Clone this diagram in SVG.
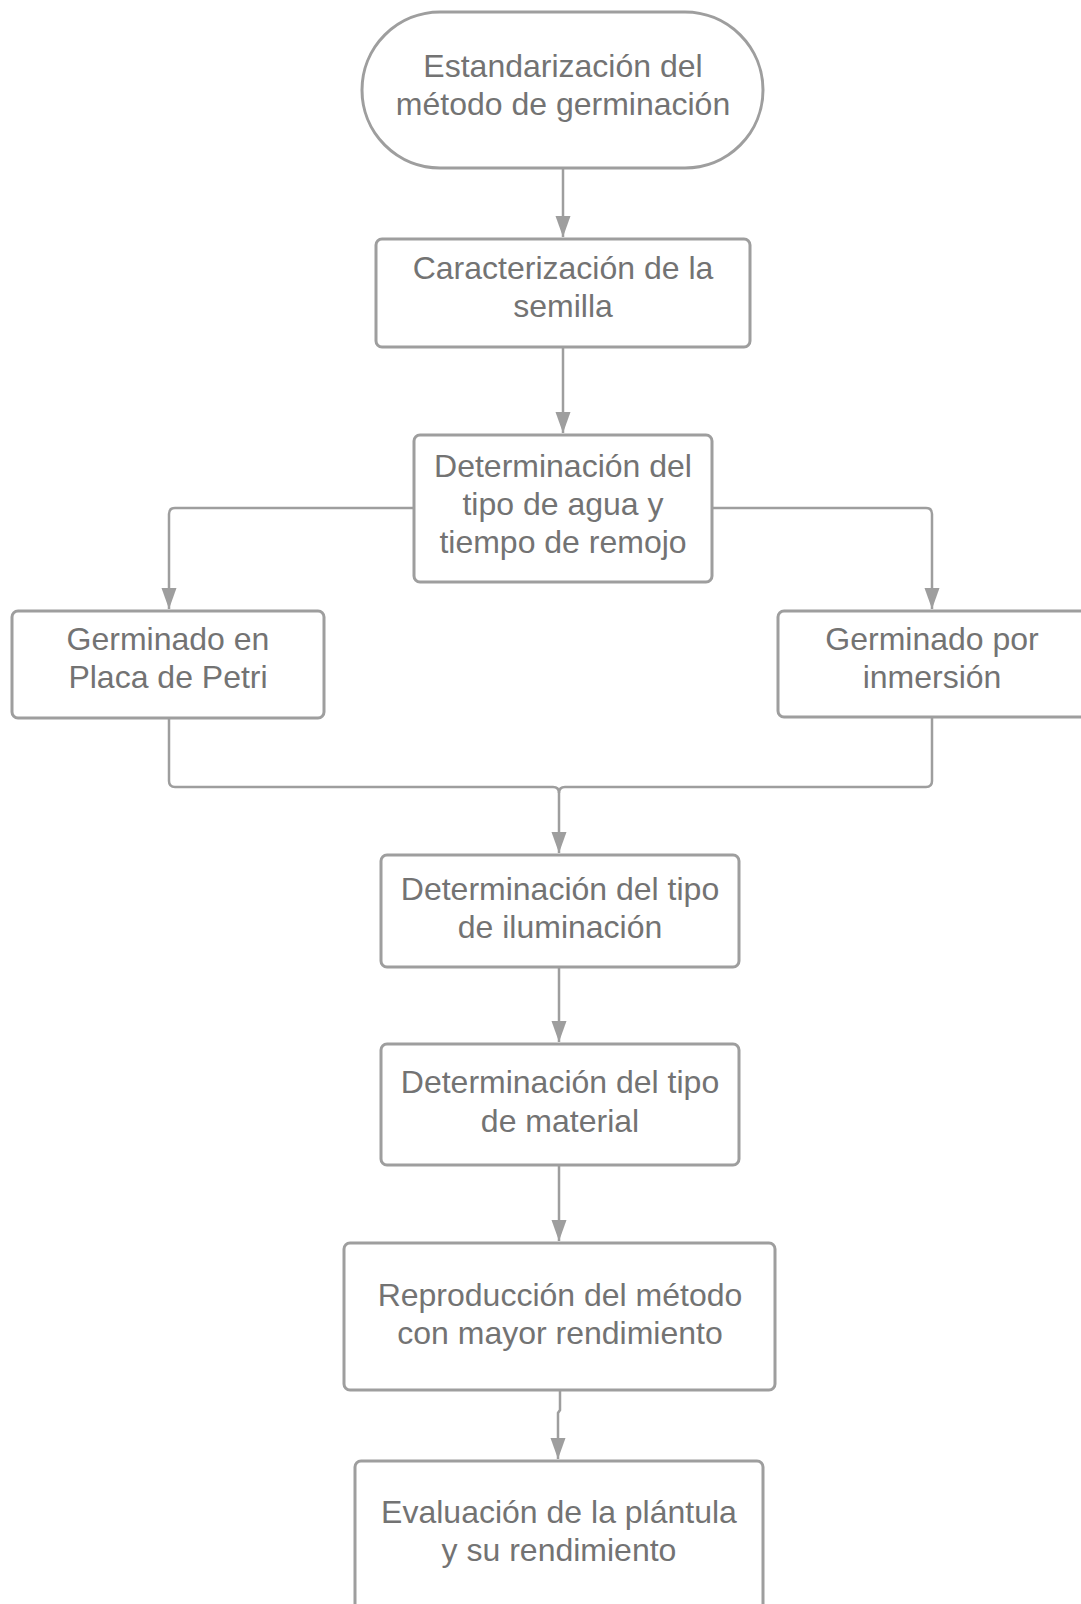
<svg xmlns="http://www.w3.org/2000/svg" width="1081" height="1604" viewBox="0 0 1081 1604">
<style>
.n{fill:#ffffff;stroke:#9e9e9e;stroke-width:3}
.t{font-family:"Liberation Sans",Arial,sans-serif;font-size:32px;fill:#737373;text-anchor:middle}
.c{fill:none;stroke:#9e9e9e;stroke-width:2.5}
</style>
<defs>
<marker id="ah" markerUnits="userSpaceOnUse" markerWidth="22" markerHeight="16" refX="21" refY="7.5" orient="auto" viewBox="0 0 22 16">
<path d="M0,0 L21,7.5 L0,15 z" fill="#9e9e9e"/>
</marker>
</defs>
<rect width="1081" height="1604" fill="#ffffff"/>
<g id="connectors">
<path class="c" d="M563,168 V237" marker-end="url(#ah)"/>
<path class="c" d="M563,347 V433" marker-end="url(#ah)"/>
<path class="c" d="M414,508 H175 Q169,508 169,514 V609" marker-end="url(#ah)"/>
<path class="c" d="M712,508 H926 Q932,508 932,514 V609" marker-end="url(#ah)"/>
<path class="c" d="M169,718 V781 Q169,787 175,787 H553 Q559,787 559,793 V853" marker-end="url(#ah)"/>
<path class="c" d="M932,717 V781 Q932,787 926,787 H565 Q559,787 559,793"/>
<path class="c" d="M559,967 V1042" marker-end="url(#ah)"/>
<path class="c" d="M559,1165 V1241" marker-end="url(#ah)"/>
<path class="c" d="M560,1390 V1410 L558,1413 V1459" marker-end="url(#ah)"/>
</g>
<g id="n1">
<rect class="n" x="362" y="12" width="401" height="156" rx="78" ry="78"/>
<text class="t" x="563" y="77">Estandarización del</text>
<text class="t" x="563" y="115">método de germinación</text>
</g>
<g id="n2">
<rect class="n" x="376" y="239" width="374" height="108" rx="6"/>
<text class="t" x="563" y="279">Caracterización de la</text>
<text class="t" x="563" y="317">semilla</text>
</g>
<g id="n3">
<rect class="n" x="414" y="435" width="298" height="147" rx="6"/>
<text class="t" x="563" y="477">Determinación del</text>
<text class="t" x="563" y="515">tipo de agua y</text>
<text class="t" x="563" y="553">tiempo de remojo</text>
</g>
<g id="n4">
<rect class="n" x="12" y="611" width="312" height="107" rx="6"/>
<text class="t" x="168" y="650">Germinado en</text>
<text class="t" x="168" y="688">Placa de Petri</text>
</g>
<g id="n5">
<rect class="n" x="778" y="611" width="330" height="106" rx="6"/>
<text class="t" x="932" y="650">Germinado por</text>
<text class="t" x="932" y="688">inmersión</text>
</g>
<g id="n6">
<rect class="n" x="381" y="855" width="358" height="112" rx="6"/>
<text class="t" x="560" y="900">Determinación del tipo</text>
<text class="t" x="560" y="938">de iluminación</text>
</g>
<g id="n7">
<rect class="n" x="381" y="1044" width="358" height="121" rx="6"/>
<text class="t" x="560" y="1093">Determinación del tipo</text>
<text class="t" x="560" y="1132">de material</text>
</g>
<g id="n8">
<rect class="n" x="344" y="1243" width="431" height="147" rx="6"/>
<text class="t" x="560" y="1306">Reproducción del método</text>
<text class="t" x="560" y="1344">con mayor rendimiento</text>
</g>
<g id="n9">
<rect class="n" x="355" y="1461" width="408" height="170" rx="6"/>
<text class="t" x="559" y="1523">Evaluación de la plántula</text>
<text class="t" x="559" y="1561">y su rendimiento</text>
</g>
</svg>
